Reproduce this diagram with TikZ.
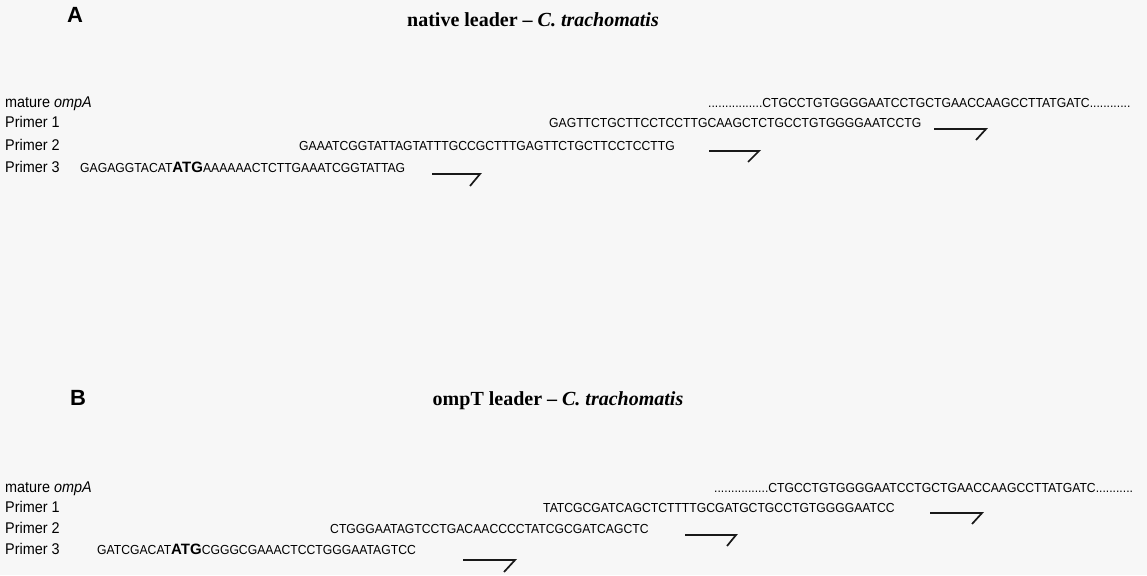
\documentclass[tikz,border=0pt]{standalone}
\usepackage{fontspec}
\setmainfont{Liberation Serif}
\newfontfamily\seqf[FakeStretch=0.93]{Liberation Sans}
\newfontfamily\labf{Liberation Sans}
\tikzset{
  panel/.style={font=\labf\fontsize{22}{24}\selectfont\bfseries, anchor=center, inner sep=0pt},
  ttl/.style={font=\fontsize{20}{22}\selectfont\bfseries, anchor=center, inner sep=0pt},
  rowlab/.style={font=\seqf\fontsize{15.5}{17}\selectfont, anchor=base west, inner sep=0pt},
  seq/.style={font=\seqf\fontsize{13.1}{15}\selectfont, anchor=base west, inner sep=0pt},
  pr/.style={line width=1.7pt, black!90, line join=miter}
}
\newcommand{\atg}{{\labf\fontsize{15}{16}\selectfont\bfseries ATG}}
\begin{document}
\begin{tikzpicture}[x=1pt,y=-1pt]
\useasboundingbox (0,0) rectangle (1147,575);
\fill[black!3] (0,0) rectangle (1147,575);
% ---------- Panel A ----------
\node[panel] (labA) at (75,15) {A};
\node[ttl] (ttlA) at (533,20) {native leader -- \textit{C. trachomatis}};
\node[rowlab] (mA) at (5,107) {mature \textit{ompA}};
\node[rowlab] (p1A) at (5,128) {Primer 1};
\node[rowlab] (p2A) at (5,150) {Primer 2};
\node[rowlab] (p3A) at (5,172) {Primer 3};
\node[seq] (smA) at (708,107) {................CTGCCTGTGGGGAATCCTGCTGAACCAAGCCTTATGATC............};
\node[seq] (s1A) at (549,128) {GAGTTCTGCTTCCTCCTTGCAAGCTCTGCCTGTGGGGAATCCTG};
\node[seq] (s2A) at (299,150) {GAAATCGGTATTAGTATTTGCCGCTTTGAGTTCTGCTTCCTCCTTG};
\node[seq] (s3A) at (80,172) {GAGAGGTACAT\atg AAAAAACTCTTGAAATCGGTATTAG};
\coordinate (a1s) at (934,129); \coordinate (a1k) at (986,129); \coordinate (a1e) at (976,140);
\coordinate (a2s) at (709,151); \coordinate (a2k) at (759,151); \coordinate (a2e) at (748,162);
\coordinate (a3s) at (432,174); \coordinate (a3k) at (480,174); \coordinate (a3e) at (470,186);
\draw[pr] (a1s) -- (a1k) -- (a1e);
\draw[pr] (a2s) -- (a2k) -- (a2e);
\draw[pr] (a3s) -- (a3k) -- (a3e);
% ---------- Panel B ----------
\node[panel] (labB) at (78,398) {B};
\node[ttl] (ttlB) at (558,401) {ompT leader -- \textit{C. trachomatis}};
\node[rowlab] (mB) at (5,492) {mature \textit{ompA}};
\node[rowlab] (p1B) at (5,512) {Primer 1};
\node[rowlab] (p2B) at (5,533) {Primer 2};
\node[rowlab] (p3B) at (5,554) {Primer 3};
\node[seq] (smB) at (714,492) {................CTGCCTGTGGGGAATCCTGCTGAACCAAGCCTTATGATC...........};
\node[seq] (s1B) at (543,512) {TATCGCGATCAGCTCTTTTGCGATGCTGCCTGTGGGGAATCC};
\node[seq] (s2B) at (330,533) {CTGGGAATAGTCCTGACAACCCCTATCGCGATCAGCTC};
\node[seq] (s3B) at (97,554) {GATCGACAT\atg CGGGCGAAACTCCTGGGAATAGTCC};
\coordinate (b1s) at (930,513); \coordinate (b1k) at (982,513); \coordinate (b1e) at (972,524);
\coordinate (b2s) at (685,535); \coordinate (b2k) at (736,535); \coordinate (b2e) at (727,546);
\coordinate (b3s) at (463,560); \coordinate (b3k) at (515,560); \coordinate (b3e) at (504,572);
\draw[pr] (b1s) -- (b1k) -- (b1e);
\draw[pr] (b2s) -- (b2k) -- (b2e);
\draw[pr] (b3s) -- (b3k) -- (b3e);
\end{tikzpicture}
\end{document}
